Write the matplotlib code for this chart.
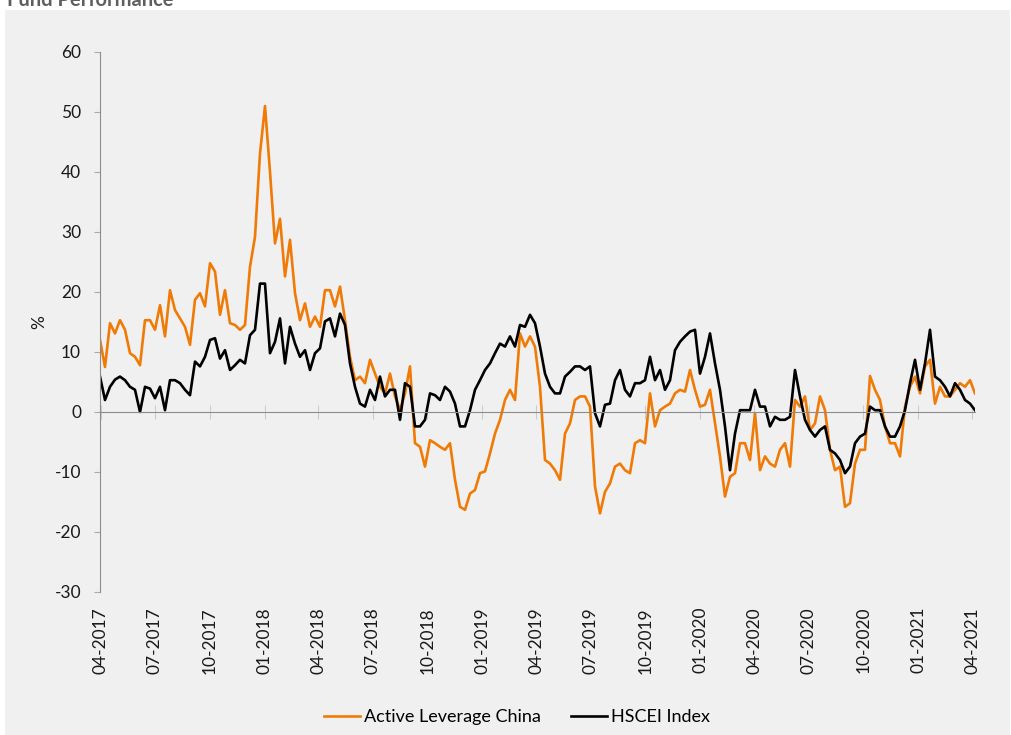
import matplotlib
matplotlib.use("Agg")
import matplotlib.pyplot as plt
import matplotlib.dates as mdates
from matplotlib.patches import Rectangle
import pandas as pd

plt.rcParams['font.family'] = ['Lato', 'DejaVu Sans']
plt.rcParams['axes.unicode_minus'] = False

# Rango de fechas de la serie (valores diarios leidos cada ~6 dias)
inicio = "2017-03-31"
fin = "2021-04-06"

# Rendimiento acumulado (%) - Active Leverage China
active = [12.0, 7.5, 14.8, 13.1, 15.3, 13.7, 9.8, 9.2, 7.8, 15.3, 15.3, 13.7, 17.8, 12.6, 20.3,
          17.0, 15.6, 14.2, 11.2, 18.7, 19.8, 17.6, 24.8, 23.4, 16.2, 20.3, 14.8, 14.5, 13.7,
          14.5, 24.2, 29.2, 43.1, 51.0, 40.0, 28.1, 32.2, 22.6, 28.7, 19.8, 15.3, 18.1, 14.2, 15.9,
          14.2, 20.3, 20.3, 17.6, 20.9, 15.3, 9.2, 5.3, 5.9, 4.8, 8.7, 6.4, 4.2, 3.1, 6.4,
          2.6, 0.3, 3.1, 7.6, -5.2, -5.8, -9.1, -4.7, -5.2, -5.8, -6.3, -5.2, -11.3, -15.8,
          -16.3, -13.6, -13.0, -10.2, -9.9, -6.9, -3.6, -1.3, 2.0, 3.7, 2.0, 13.1, 10.9, 12.6,
          10.9, 4.2, -8.0, -8.6, -9.7, -11.3, -3.6, -1.9, 2.0, 2.6, 2.6, 0.9, -12.4, -16.9, -13.3,
          -11.9, -9.1, -8.6, -9.7, -10.2, -5.2, -4.7, -5.2, 3.1, -2.4, 0.3, 0.9, 1.4, 3.1, 3.7,
          3.4, 7.0, 3.7, 0.9, 1.2, 3.7, -1.9, -7.4, -14.1, -10.8, -10.2, -5.2, -5.2, -8.0, -0.2,
          -9.7, -7.4, -8.6, -9.1, -6.3, -5.2, -9.1, 2.0, 0.9, 2.6, -3.0, -1.9, 2.6, 0.3,
          -6.3, -9.7, -9.1, -15.8, -15.2, -8.6, -6.3, -6.3, 6.0, 3.7, 2.0, -2.4, -5.2, -5.2, -7.4,
          0.9, 4.2, 5.9, 3.1, 7.6, 8.7, 1.4, 4.2, 2.6, 2.6, 3.7, 4.8, 4.2, 5.3, 3.1]

# Rendimiento acumulado (%) - HSCEI Index
hscei = [5.9, 2.0, 4.2, 5.4, 5.9, 5.3, 4.2, 3.7, 0.0, 4.2, 3.9, 2.3, 4.2, 0.3, 5.3,
         5.3, 4.8, 3.7, 2.8, 8.4, 7.6, 9.2, 12.0, 12.3, 8.9, 10.3, 7.0, 7.8, 8.7,
         8.1, 12.8, 13.7, 21.4, 21.4, 9.8, 11.7, 15.6, 8.1, 14.2, 11.4, 9.2, 10.3, 7.0, 9.8,
         10.6, 15.1, 15.6, 12.6, 16.4, 14.5, 8.1, 4.2, 1.4, 0.9, 3.7, 2.0, 5.9, 2.6, 3.7,
         3.7, -1.3, 4.8, 4.2, -2.4, -2.4, -1.3, 3.1, 2.8, 2.0, 4.2, 3.4, 1.4, -2.4,
         -2.4, 0.3, 3.7, 5.3, 7.0, 8.1, 9.8, 11.4, 10.9, 12.6, 10.9, 14.5, 14.2, 16.2,
         14.8, 10.9, 6.4, 4.2, 3.1, 3.1, 5.9, 6.7, 7.6, 7.6, 7.0, 7.6, -0.2, -2.4, 1.2,
         1.4, 5.3, 7.0, 3.7, 2.6, 4.8, 4.8, 5.3, 9.2, 5.3, 7.0, 3.7, 5.3, 10.3, 11.7,
         12.6, 13.4, 13.7, 6.4, 9.2, 13.1, 8.1, 3.7, -2.4, -9.7, -3.6, 0.3, 0.3, 0.3, 3.7,
         0.9, 0.9, -2.4, -0.8, -1.3, -1.3, -0.8, 7.0, 2.6, -1.3, -3.0, -4.1, -3.0, -2.4,
         -6.3, -6.9, -8.0, -10.2, -9.1, -5.2, -4.1, -3.6, 0.9, 0.3, 0.3, -2.4, -4.1, -4.1, -2.4,
         0.3, 4.8, 8.7, 3.7, 8.1, 13.7, 5.9, 5.3, 4.2, 2.6, 4.8, 3.7, 2.0, 1.4, 0.3]

fechas = pd.date_range(inicio, fin, periods=len(active))
trimestres = pd.date_range("2017-04-01", "2021-04-01", freq="QS-JAN")

fig = plt.figure(figsize=(10.12, 7.35), dpi=100)
# panel gris de fondo
fig.add_artist(Rectangle((5 / 1012, 0), 1005 / 1012, 1 - 10 / 735, transform=fig.transFigure,
                         facecolor='#f0f0f0', edgecolor='none', zorder=-10))
fig.text(7 / 1012, 1 - 6 / 735, 'Fund Performance', fontsize=14.5, fontweight='bold',
         color='#5f5f5f', va='baseline')

ax = fig.add_axes([100 / 1012, 1 - 592 / 735, 875 / 1012, 540 / 735])
ax.set_facecolor('none')

ax.plot(fechas, active, color='#ef7a06', lw=1.9, label='Active Leverage China')
ax.plot(fechas, hscei, color='black', lw=1.9, label='HSCEI Index')

ax.set_ylim(-30, 60)
ax.set_yticks(range(-30, 61, 10))
ax.set_xlim(fechas[0], fechas[-1])
ax.set_xticks(trimestres)
ax.xaxis.set_major_formatter(mdates.DateFormatter('%m-%Y'))

ax.spines['top'].set_visible(False)
ax.spines['right'].set_visible(False)
ax.spines['left'].set_color('#8c8c8c')
ax.spines['bottom'].set_position(('data', 0))
ax.spines['bottom'].set_color('#8c8c8c')

ax.tick_params(axis='x', direction='inout', length=9.4, color='#cccccc', rotation=90,
               pad=135.7, labelsize=12.5, labelcolor='#1a1a1a')
ax.tick_params(axis='y', direction='out', length=4, color='#aaaaaa', pad=9.6,
               labelsize=12.5, labelcolor='#1a1a1a')

ax.set_ylabel('%', fontsize=12.5, color='#1a1a1a')
ax.yaxis.set_label_coords(-0.0606, 0.5)

fig.legend(loc='center', bbox_to_anchor=(517 / 1012, 1 - 717 / 735), ncol=2, frameon=False,
           fontsize=13, handlelength=2.0, handletextpad=0.2, columnspacing=1.7)

plt.savefig('out.png', dpi=100)
